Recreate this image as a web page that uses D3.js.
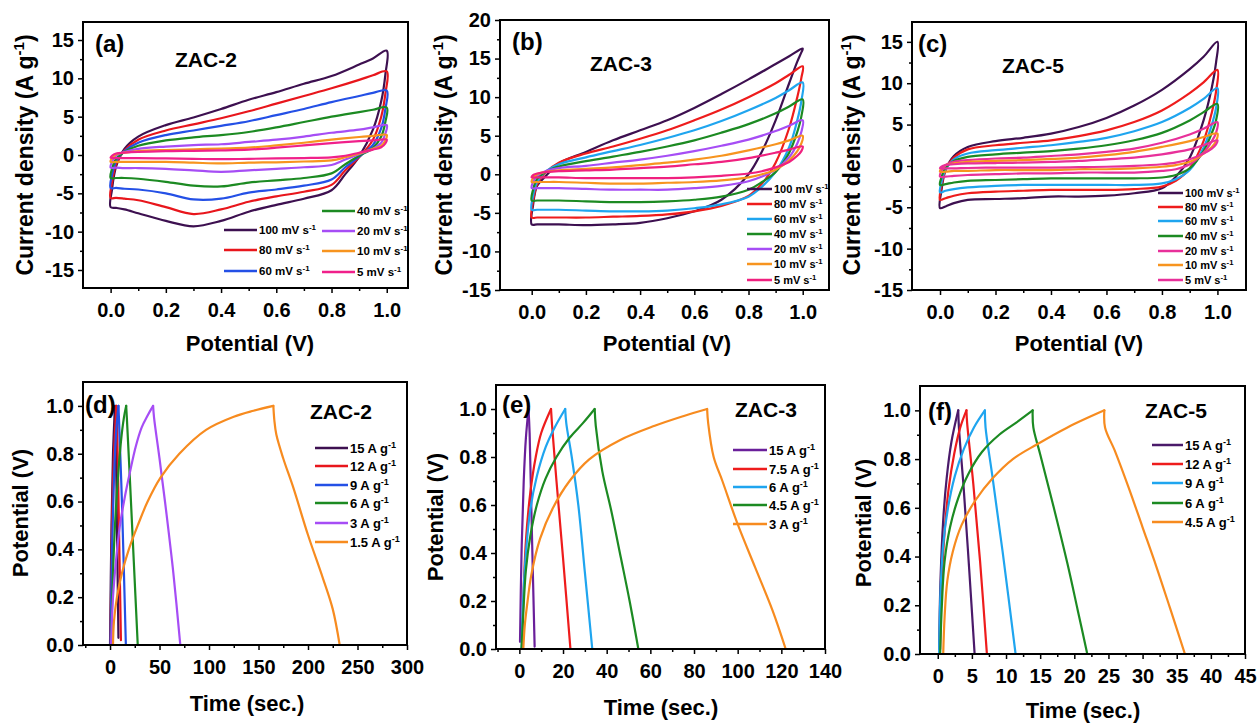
<!DOCTYPE html>
<html><head><meta charset="utf-8">
<script src="https://cdn.jsdelivr.net/npm/d3@7"></script>
<style>
body{margin:0;background:#fff}
text{font-family:"Liberation Sans",Arial,sans-serif;font-weight:bold;fill:#000}
</style>
</head><body>
<svg id="chart" width="1259" height="723"></svg>
<script>
// ---------- CV data (potential loop: anodic 0->1 then cathodic 1->0) ----------
const cvPotential = [0,0.005,0.02,0.05,0.1,0.2,0.3,0.4,0.5,0.6,0.7,0.8,0.9,0.95,1.0,
                     0.995,0.98,0.95,0.9,0.85,0.8,0.7,0.6,0.5,0.4,0.3,0.2,0.1,0.05,0.02];
const scanRates = ["100","80","60","40","20","10","5"];

const cvA_current = [
  [-6.8,-4.5,-1.5,0.8,2.4,3.9,4.9,6.0,7.2,8.2,9.3,10.3,11.8,12.6,13.6, 10.5,7.0,3.3,-0.2,-2.5,-4.6,-5.7,-6.5,-7.4,-8.6,-9.3,-8.6,-7.6,-7.1,-6.9],
  [-5.6,-3.6,-1.2,0.6,2.0,3.2,4.0,4.8,5.7,6.7,7.7,8.7,9.8,10.4,10.9, 8.0,5.0,2.0,-0.3,-2.0,-3.9,-4.8,-5.4,-6.1,-7.1,-7.7,-6.8,-5.9,-5.7,-5.6],
  [-4.3,-2.6,-0.8,0.5,1.6,2.6,3.2,3.8,4.4,5.2,6.0,6.9,7.7,8.1,8.4, 6.0,3.5,1.3,-0.2,-1.6,-3.2,-4.0,-4.5,-4.9,-5.7,-5.8,-5.0,-4.5,-4.4,-4.3],
  [-3.0,-1.8,-0.5,0.4,1.2,1.9,2.3,2.6,3.0,3.6,4.3,5.0,5.6,5.9,6.2, 4.3,2.4,0.9,-0.1,-1.2,-2.4,-3.0,-3.3,-3.6,-4.1,-4.0,-3.5,-3.1,-3.0,-3.0],
  [-1.65,-0.9,-0.1,0.4,0.8,1.1,1.3,1.4,1.7,2.0,2.4,2.9,3.3,3.6,3.9, 2.8,1.6,0.8,0.1,-0.6,-1.3,-1.6,-1.8,-2.0,-2.2,-2.0,-1.8,-1.7,-1.7,-1.65],
  [-0.9,-0.4,0.1,0.3,0.5,0.65,0.75,0.85,0.95,1.25,1.6,2.0,2.35,2.5,2.6, 1.9,1.2,0.8,0.2,-0.3,-0.7,-0.85,-0.95,-1.0,-1.1,-1.0,-0.9,-0.9,-0.9,-0.9],
  [-0.35,-0.1,0.2,0.3,0.4,0.5,0.55,0.6,0.7,0.95,1.25,1.55,1.8,1.9,2.0, 1.5,1.0,0.7,0.3,-0.1,-0.3,-0.4,-0.45,-0.5,-0.55,-0.5,-0.45,-0.4,-0.4,-0.4]
];
const cvB_current = [
  [-6.5,-4.0,-1.5,-0.3,1.4,2.9,4.4,5.7,7.0,8.6,10.4,12.3,14.3,15.3,16.3, 15.8,14.6,11.8,7.0,3.0,0.0,-3.3,-4.8,-5.7,-6.3,-6.5,-6.6,-6.5,-6.5,-6.5],
  [-5.6,-3.5,-1.3,0.2,1.5,2.7,3.6,4.6,5.7,7.0,8.4,10.0,11.8,12.9,14.0, 12.5,10.0,6.0,1.5,-1.2,-2.8,-4.1,-4.8,-5.2,-5.4,-5.5,-5.6,-5.6,-5.6,-5.6],
  [-4.6,-2.8,-1.0,0.3,1.3,2.2,3.0,3.8,4.7,5.7,6.9,8.3,9.9,10.9,11.9, 9.5,7.0,3.5,0.3,-1.6,-2.9,-3.9,-4.4,-4.7,-4.8,-4.8,-4.7,-4.6,-4.6,-4.6],
  [-3.4,-2.0,-0.6,0.3,1.0,1.7,2.3,2.9,3.6,4.4,5.4,6.5,7.9,8.8,9.7, 7.5,5.5,2.8,0.3,-1.0,-2.0,-2.9,-3.3,-3.5,-3.6,-3.6,-3.5,-3.4,-3.4,-3.4],
  [-1.8,-1.0,-0.2,0.4,0.8,1.1,1.5,1.9,2.4,3.0,3.7,4.5,5.6,6.3,7.0, 5.5,4.0,2.2,0.6,-0.3,-0.9,-1.5,-1.8,-2.0,-2.0,-2.0,-1.9,-1.8,-1.8,-1.8],
  [-1.0,-0.5,0.0,0.3,0.5,0.7,0.9,1.2,1.5,1.9,2.4,3.1,3.9,4.4,5.0, 4.0,3.0,1.8,0.6,0.0,-0.4,-0.8,-1.0,-1.1,-1.2,-1.2,-1.1,-1.0,-1.0,-1.0],
  [-0.4,-0.1,0.1,0.3,0.4,0.5,0.6,0.8,1.0,1.3,1.6,2.1,2.8,3.2,3.6, 3.0,2.4,1.6,0.9,0.4,0.1,-0.2,-0.4,-0.5,-0.5,-0.5,-0.5,-0.4,-0.4,-0.4]
];
const cvC_current = [
  [-5.1,-3.0,-0.5,1.2,2.3,3.0,3.4,3.9,4.7,5.8,7.3,9.2,11.7,13.2,15.0, 12.5,9.5,5.5,1.0,-1.3,-2.7,-3.3,-3.6,-3.7,-3.7,-3.9,-4.0,-4.1,-4.5,-4.9],
  [-4.1,-2.5,-0.5,1.0,2.0,2.5,2.8,3.1,3.6,4.3,5.3,6.7,8.8,10.1,11.6, 9.0,6.5,3.0,-0.3,-1.8,-2.5,-2.8,-2.9,-2.9,-2.9,-3.0,-3.1,-3.3,-3.6,-3.9],
  [-3.2,-2.0,-0.4,0.8,1.5,1.9,2.2,2.5,2.9,3.4,4.2,5.3,7.0,8.1,9.4, 7.0,5.0,2.2,-0.5,-1.6,-2.1,-2.3,-2.3,-2.3,-2.3,-2.3,-2.4,-2.6,-2.8,-3.0],
  [-2.3,-1.4,-0.2,0.6,1.1,1.4,1.6,1.8,2.1,2.5,3.1,4.0,5.5,6.5,7.5, 5.5,4.0,1.8,-0.3,-1.1,-1.4,-1.5,-1.5,-1.5,-1.5,-1.6,-1.7,-1.8,-2.0,-2.2],
  [-1.3,-0.6,0.1,0.5,0.7,0.9,1.0,1.2,1.4,1.7,2.1,2.8,3.8,4.5,5.3, 4.0,3.0,1.6,0.2,-0.4,-0.6,-0.8,-0.8,-0.8,-0.9,-0.9,-1.0,-1.1,-1.2,-1.3],
  [-0.7,-0.3,0.1,0.3,0.5,0.6,0.7,0.85,1.0,1.3,1.7,2.3,3.0,3.5,3.9, 3.0,2.3,1.5,0.5,0.1,-0.1,-0.3,-0.4,-0.4,-0.5,-0.5,-0.5,-0.6,-0.6,-0.7],
  [-0.3,-0.1,0.1,0.2,0.3,0.35,0.4,0.5,0.6,0.8,1.0,1.4,2.0,2.5,3.1, 2.6,2.1,1.5,0.8,0.4,0.2,0.0,-0.1,-0.15,-0.2,-0.2,-0.2,-0.25,-0.3,-0.3]
];
const cvA_colors = ["#3d1050","#e8161c","#2450e6","#1c8a22","#a64df5","#f7941f","#f0208a"];
const cvB_colors = ["#3d1050","#ee1c1c","#1fa5ef","#1c8a22","#a64df5","#f7941f","#f0207f"];
const cvC_colors = ["#3d1050","#ee1c1c","#1fa5ef","#1c8a22","#e8309a","#f7941f","#e8309a"];

// ---------- GCD data: [time (s), potential (V)] ----------
const gcdD_labels = ["15","12","9","6","3","1.5"];
const gcdD_curves = [
  [[0,0],[1.5,0.5],[3,0.8],[5,1.0],[5.5,0.95],[7,0.5],[8.5,0.03]],
  [[0.5,0],[2,0.5],[4,0.8],[6.5,1.0],[7,0.95],[9,0.5],[11,0.02]],
  [[0.5,0],[2,0.4],[4,0.7],[6,0.88],[8.5,1.0],[9,0.95],[12,0.6],[16,0]],
  [[1,0],[3,0.3],[5,0.5],[8,0.7],[11,0.85],[14,0.95],[16.3,1.0],[17,0.95],[20,0.7],[24,0.35],[28,0]],
  [[1,0],[3,0.2],[6,0.35],[10,0.5],[15,0.62],[20,0.72],[26,0.83],[32,0.91],[38,0.96],[43.5,1.0],[44.5,0.95],[50,0.78],[57,0.55],[64,0.3],[71,0]],
  [[3,0],[4,0.1],[7,0.2],[12,0.3],[19,0.4],[28,0.5],[38,0.6],[51,0.7],[70,0.8],[97,0.9],[125,0.955],[145,0.98],[165,1.0],[166,0.94],[168,0.88],[175,0.78],[185,0.66],[200,0.46],[215,0.28],[225,0.15],[232,0]]
];
const gcdD_colors = ["#3d1050","#e8161c","#2450e6","#1c8a22","#a64df5","#f78b1f"];

const gcdE_labels = ["15","7.5","6","4.5","3"];
const gcdE_curves = [
  [[0.3,0.03],[1,0.4],[2,0.7],[3,0.88],[4.2,1.0],[4.7,0.9],[5.7,0.5],[7,0.01]],
  [[1.2,0],[1.8,0.2],[3,0.45],[5,0.65],[7.5,0.8],[10,0.9],[14.5,1.0],[15,0.93],[17,0.7],[20,0.38],[23.4,0]],
  [[1,0],[1.7,0.2],[3,0.4],[5,0.58],[8,0.72],[12,0.84],[16,0.92],[21,1.0],[21.5,0.94],[24,0.8],[27,0.6],[30,0.32],[33.4,0]],
  [[1,0],[1.8,0.15],[3,0.33],[5,0.47],[8,0.6],[12,0.71],[17,0.8],[23,0.88],[29,0.94],[34.5,1.0],[35,0.93],[38,0.74],[42,0.58],[46.5,0.38],[50.5,0.2],[54.5,0]],
  [[1.8,0],[2.5,0.1],[3.5,0.18],[5.5,0.31],[9.5,0.46],[15.5,0.59],[23,0.7],[32,0.79],[46,0.87],[62,0.93],[75,0.97],[86,1.0],[86.5,0.94],[89,0.8],[93,0.7],[100,0.52],[108,0.34],[116,0.16],[122,0]]
];
const gcdE_colors = ["#6a1f9a","#ee1c1c","#1fa5ef","#1c8a22","#f78b1f"];

const gcdF_labels = ["15","12","9","6","4.5"];
const gcdF_curves = [
  [[0.2,0.02],[0.4,0.3],[0.8,0.55],[1.3,0.72],[2.0,0.87],[3.0,1.0],[3.1,0.93],[3.8,0.68],[4.6,0.35],[5.4,0]],
  [[0.35,0.02],[0.6,0.3],[1.0,0.5],[1.6,0.68],[2.4,0.82],[3.3,0.93],[4.2,1.0],[4.3,0.95],[5.2,0.7],[6.2,0.38],[7.2,0]],
  [[0.2,0],[0.4,0.25],[0.8,0.45],[1.5,0.6],[2.5,0.73],[3.8,0.84],[5.3,0.93],[6.9,1.0],[7.0,0.93],[8,0.73],[9.5,0.42],[11.4,0]],
  [[0.35,0],[0.6,0.2],[1.0,0.38],[1.8,0.52],[3,0.64],[4.5,0.74],[6.5,0.83],[9,0.9],[11.5,0.95],[13.9,1.0],[14,0.93],[15,0.82],[17,0.6],[19,0.37],[20.5,0.18],[21.9,0]],
  [[0.8,0],[1.0,0.15],[1.4,0.3],[2.2,0.42],[3.5,0.53],[5.5,0.63],[8,0.72],[11,0.8],[14.5,0.86],[19,0.93],[24.4,1.0],[24.5,0.93],[26,0.83],[28,0.68],[30,0.52],[32,0.36],[34,0.19],[36.2,0]]
];
const gcdF_colors = ["#4a1a6a","#ee1c1c","#1fa5ef","#1c8a22","#f78b1f"];

// ---------- tick values ----------
const cvXTicks = [0,0.2,0.4,0.6,0.8,1.0];
const cvXMinor = [0.1,0.3,0.5,0.7,0.9];
const gcdYTicks = [0,0.2,0.4,0.6,0.8,1.0];
const gcdYMinor = [0.1,0.3,0.5,0.7,0.9];

const svg = d3.select("#chart");

function makePanel(c) {
  const g = svg.append("g");
  const x = d3.scaleLinear().domain(c.xd).range([c.l, c.r]);
  const y = d3.scaleLinear().domain(c.yd).range([c.b, c.t]);
  const clean = s => { s.select(".domain").remove(); s.selectAll("line").attr("stroke","#000").attr("stroke-width",1.5); };
  g.append("g").attr("transform",`translate(0,${c.b})`)
    .call(d3.axisBottom(x).tickValues(c.xMinor).tickSize(3).tickFormat("")).call(clean);
  g.append("g").attr("transform",`translate(0,${c.b})`)
    .call(d3.axisBottom(x).tickValues(c.xTicks).tickSize(5).tickPadding(10).tickFormat(c.xFmt)).call(clean)
    .selectAll("text").attr("font-size",20).attr("font-family",null);
  g.append("g").attr("transform",`translate(${c.l},0)`)
    .call(d3.axisLeft(y).tickValues(c.yMinor).tickSize(3).tickFormat("")).call(clean);
  g.append("g").attr("transform",`translate(${c.l},0)`)
    .call(d3.axisLeft(y).tickValues(c.yTicks).tickSize(5).tickPadding(4).tickFormat(c.yFmt)).call(clean)
    .selectAll("text").attr("font-size",20).attr("font-family",null);
  const id = "clip" + c.name;
  svg.append("clipPath").attr("id",id).append("rect")
    .attr("x",c.l).attr("y",c.t).attr("width",c.r-c.l).attr("height",c.b-c.t);
  const plot = g.append("g").attr("clip-path",`url(#${id})`);
  g.append("rect").attr("x",c.l).attr("y",c.t).attr("width",c.r-c.l).attr("height",c.b-c.t)
    .attr("fill","none").attr("stroke","#000").attr("stroke-width",2);
  g.append("text").attr("x",c.lab[0]).attr("y",c.lab[1]).attr("font-size",24).text(c.label);
  g.append("text").attr("x",c.sam[0]).attr("y",c.sam[1]).attr("font-size",21).text(c.sample);
  g.append("text").attr("x",c.xt[0]).attr("y",c.xt[1]).attr("font-size",22).attr("text-anchor","middle").text(c.xTitle);
  const yt = g.append("text").attr("transform",`translate(${c.yt[0]},${c.yt[1]}) rotate(-90)`)
    .attr("font-size",c.ytSize).attr("text-anchor","middle");
  yt.append("tspan").text(c.yTitle);
  if (c.ySup) {
    yt.append("tspan").attr("font-size",c.ytSize*0.65).attr("dy",-c.ytSize*0.4).text(c.ySup);
    yt.append("tspan").attr("dy",c.ytSize*0.4).text(")");
  }
  return {g, x, y, plot};
}

function legend(g, cfg, labels, colors, unit) {
  labels.forEach((lab, i) => {
    const pos = cfg.rows[i];
    g.append("line").attr("x1",pos[0]).attr("x2",pos[0]+cfg.len).attr("y1",pos[1]).attr("y2",pos[1])
      .attr("stroke",colors[i]).attr("stroke-width",2.5);
    const t = g.append("text").attr("x",pos[0]+cfg.len+2).attr("y",pos[1]+cfg.fs*0.38).attr("font-size",cfg.fs);
    t.append("tspan").text(lab + unit);
    t.append("tspan").attr("font-size",cfg.fs*0.7).attr("dy",-cfg.fs*0.4).text("-1");
  });
}

function drawCV(c, currents, colors, legCfg) {
  const p = makePanel(c);
  const line = d3.line().x((d,i)=>p.x(cvPotential[i])).y(d=>p.y(d)).curve(d3.curveCatmullRomClosed.alpha(0.5));
  currents.forEach((vals,i) => {
    p.plot.append("path").attr("d",line(vals)).attr("fill","none").attr("stroke",colors[i]).attr("stroke-width",2.2);
  });
  legend(p.g, legCfg, scanRates, colors, " mV s");
}

function drawGCD(c, curves, labels, colors, legCfg) {
  const p = makePanel(c);
  const line = d3.line().x(d=>p.x(d[0])).y(d=>p.y(d[1])).curve(d3.curveCatmullRom.alpha(0.5));
  curves.forEach((pts,i) => {
    const pk = d3.maxIndex(pts, d=>d[1]);
    [pts.slice(0, pk+1), pts.slice(pk)].forEach(seg => {
      p.plot.append("path").attr("d",line(seg)).attr("fill","none").attr("stroke",colors[i])
        .attr("stroke-width",2.2).attr("stroke-linejoin","round").attr("stroke-linecap","round");
    });
  });
  legend(p.g, legCfg, labels, colors, " A g");
}

const cvCommon = {xTicks:cvXTicks, xMinor:cvXMinor, xFmt:d3.format(".1f"), yFmt:d=>String(d),
  xTitle:"Potential (V)", yTitle:"Current density (A g", ySup:"-1", ytSize:23};
const gcdCommon = {yTicks:gcdYTicks, yMinor:gcdYMinor, yFmt:d3.format(".1f"), xFmt:d=>String(d),
  xTitle:"Time (sec.)", yTitle:"Potential (V)", ytSize:22};

drawCV(Object.assign({}, cvCommon, {name:"a", l:83, r:408, t:22, b:288, xd:[-0.1,1.077], yd:[-17.35,17.35],
  yTicks:[-15,-10,-5,0,5,10,15], yMinor:[-12.5,-7.5,-2.5,2.5,7.5,12.5],
  label:"(a)", lab:[95,52], sample:"ZAC-2", sam:[175,67], xt:[250,351], yt:[33,155]}),
  cvA_current, cvA_colors,
  {len:33, fs:11.5, rows:[[224,230],[224,250],[224,271],[322,211],[322,231],[322,251],[322,272]]});

drawCV(Object.assign({}, cvCommon, {name:"b", l:500, r:829, t:20, b:290, xd:[-0.117,1.097], yd:[-15,20],
  yTicks:[-15,-10,-5,0,5,10,15,20], yMinor:[-12.5,-7.5,-2.5,2.5,7.5,12.5,17.5],
  label:"(b)", lab:[512,50], sample:"ZAC-3", sam:[590,71], xt:[667,351], yt:[452,155]}),
  cvB_current, cvB_colors,
  {len:25, fs:11, rows:[[747,189],[747,204],[747,219],[747,234],[747,249],[747,264],[747,280]]});

drawCV(Object.assign({}, cvCommon, {name:"c", l:912, r:1246, t:22, b:290, xd:[-0.101,1.103], yd:[-15,17.4],
  yTicks:[-15,-10,-5,0,5,10,15], yMinor:[-12.5,-7.5,-2.5,2.5,7.5,12.5],
  label:"(c)", lab:[918,52], sample:"ZAC-5", sam:[1002,73], xt:[1079,351], yt:[860,155]}),
  cvC_current, cvC_colors,
  {len:25, fs:11, rows:[[1158,193],[1158,207],[1158,221],[1158,236],[1158,251],[1158,265],[1158,280]]});

drawGCD(Object.assign({}, gcdCommon, {name:"d", l:83, r:407, t:382, b:645, xd:[-27.3,300], yd:[0,1.1],
  xTicks:[0,50,100,150,200,250,300], xMinor:[-25,25,75,125,175,225,275],
  label:"(d)", lab:[85,413], sample:"ZAC-2", sam:[310,419], xt:[247,711], yt:[28,513]}),
  gcdD_curves, gcdD_labels, gcdD_colors,
  {len:33, fs:13, rows:[[315,448],[315,466],[315,485],[315,503],[315,523],[315,542]]});

drawGCD(Object.assign({}, gcdCommon, {name:"e", l:496, r:825, t:385, b:649, xd:[-10.7,140], yd:[0,1.1],
  xTicks:[0,20,40,60,80,100,120,140], xMinor:[-10,10,30,50,70,90,110,130],
  label:"(e)", lab:[502,413], sample:"ZAC-3", sam:[735,417], xt:[661,715], yt:[443,517]}),
  gcdE_curves, gcdE_labels, gcdE_colors,
  {len:34, fs:13, rows:[[733,450],[733,469],[733,487],[733,505],[733,524]]});

drawGCD(Object.assign({}, gcdCommon, {name:"f", l:920, r:1245, t:386, b:654, xd:[-2.6,45], yd:[0,1.1],
  xTicks:[0,5,10,15,20,25,30,35,40,45], xMinor:[2.5,7.5,12.5,17.5,22.5,27.5,32.5,37.5,42.5],
  label:"(f)", lab:[928,420], sample:"ZAC-5", sam:[1145,418], xt:[1083,718], yt:[871,523]}),
  gcdF_curves, gcdF_labels, gcdF_colors,
  {len:31, fs:13, rows:[[1152,445],[1152,464],[1152,483],[1152,503],[1152,522]]});
</script>
</body></html>
